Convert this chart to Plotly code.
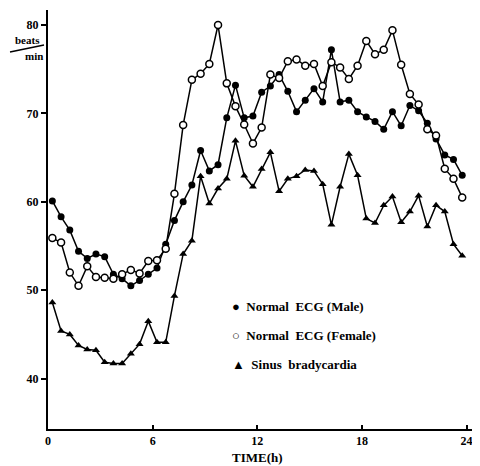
import plotly.graph_objects as go

# Half-hour time points (h)
times = [0.25 + 0.5 * k for k in range(48)]

male = [60.1, 58.3, 56.8, 54.4, 53.6, 54.1, 53.8, 51.8, 51.3, 50.5, 51.1, 51.8,
        52.5, 55.2, 57.9, 60.0, 61.9, 65.8, 63.5, 64.2, 69.5, 73.2, 69.5, 69.7,
        72.4, 73.1, 74.4, 72.5, 70.2, 71.5, 72.8, 71.3, 77.2, 71.3, 71.5, 70.2,
        69.6, 69.1, 68.2, 70.2, 68.6, 70.9, 70.3, 68.9, 67.1, 65.3, 64.8, 63.0]

female = [55.9, 55.4, 52.0, 50.5, 52.7, 51.5, 51.4, 51.3, 51.8, 52.3, 51.9, 53.3,
          53.4, 54.7, 60.9, 68.7, 73.8, 74.5, 75.6, 80.0, 73.4, 70.8, 68.75, 66.6,
          68.4, 74.4, 74.0, 75.9, 76.1, 75.4, 75.6, 73.1, 75.8, 75.2, 73.9, 75.4,
          78.2, 76.7, 77.2, 79.4, 75.5, 72.2, 71.0, 68.2, 67.5, 63.75, 62.6, 60.5]

brady = [48.6, 45.4, 45.0, 43.75, 43.3, 43.2, 41.85, 41.7, 41.7, 42.8, 43.9, 46.5,
         44.1, 44.1, 49.35, 54.1, 55.6, 62.9, 59.8, 61.5, 62.6, 66.9, 62.95, 61.7,
         63.7, 65.6, 61.2, 62.6, 62.9, 63.6, 63.5, 62.0, 57.4, 61.7, 65.4, 63.0,
         58.1, 57.6, 59.6, 60.6, 57.7, 58.9, 60.7, 57.2, 59.6, 58.9, 55.2, 53.9]

x_ticks = [0, 6, 12, 18, 24]
y_ticks = [40, 50, 60, 70, 80]

legend_labels = ["Normal  ECG (Male)", "Normal  ECG (Female)", "Sinus  bradycardia"]
legend_symbols = ["●", "○", "▲"]

FONT = "Liberation Serif"
OFF = 8  # page body margin
W, H = 480 - OFF, 466 - OFF
L, T, B = 48 - OFF, 10 - OFF, 37
PW, PH = W - L, H - T - B


def px(sx):
    return (sx - OFF - L) / PW


def py(sy):
    return (H - B - (sy - OFF)) / PH


fig = go.Figure()
fig.add_trace(go.Scatter(x=times, y=male, mode="lines+markers", cliponaxis=False,
                         line=dict(color="black", width=1.5),
                         marker=dict(symbol="circle", size=7, color="black")))
fig.add_trace(go.Scatter(x=times, y=female, mode="lines+markers", cliponaxis=False,
                         line=dict(color="black", width=1.5),
                         marker=dict(symbol="circle", size=7, color="white",
                                     line=dict(color="black", width=1.5))))
fig.add_trace(go.Scatter(x=times, y=brady, mode="lines+markers", cliponaxis=False,
                         line=dict(color="black", width=1.5),
                         marker=dict(symbol="triangle-up", size=7, color="black")))

annotations = []
for i, (sym, lab) in enumerate(zip(legend_symbols, legend_labels)):
    ypix = 306 + 29 * i
    annotations.append(dict(xref="paper", yref="paper", x=px(230), y=py(ypix),
                            xanchor="left", yanchor="middle",
                            text=sym + "  " + lab, showarrow=False,
                            font=dict(family=FONT, size=13, color="black", weight="bold")))

annotations += [
    dict(xref="paper", yref="paper", x=px(257), y=py(457),
         xanchor="center", yanchor="middle", text="TIME(h)", showarrow=False,
         font=dict(family=FONT, size=13, color="black", weight="bold")),
    dict(xref="paper", yref="paper", x=px(27), y=py(40),
         xanchor="center", yanchor="middle", text="beats", showarrow=False,
         font=dict(family=FONT, size=11, color="black", weight="bold")),
    dict(xref="paper", yref="paper", x=px(34), y=py(56),
         xanchor="center", yanchor="middle", text="min", showarrow=False,
         font=dict(family=FONT, size=11, color="black", weight="bold")),
]

shapes = [
    dict(type="line", xref="paper", yref="paper",
         x0=px(10), y0=py(52), x1=px(44), y1=py(45),
         line=dict(color="black", width=1.5)),
]

fig.update_layout(
    width=W, height=H,
    margin=dict(l=L, r=0, t=T, b=B, pad=0),
    paper_bgcolor="white", plot_bgcolor="white",
    showlegend=False,
    annotations=annotations,
    shapes=shapes,
    xaxis=dict(range=[0, 24.77], tickvals=x_ticks, ticktext=[str(v) for v in x_ticks],
               showgrid=False, zeroline=False, showline=True, linecolor="black",
               linewidth=2, ticks="inside", ticklen=4, tickwidth=1.5, tickcolor="black",
               automargin=False,
               tickfont=dict(family=FONT, size=12, color="black", weight="bold")),
    yaxis=dict(range=[34.3, 81.7], tickvals=y_ticks, ticktext=[str(v) for v in y_ticks],
               showgrid=False, zeroline=False, showline=True, linecolor="black",
               linewidth=2, ticks="outside", ticklen=5, tickwidth=1.5, tickcolor="black",
               automargin=False,
               tickfont=dict(family=FONT, size=12, color="black", weight="bold")),
)

fig.write_html("out.html")
